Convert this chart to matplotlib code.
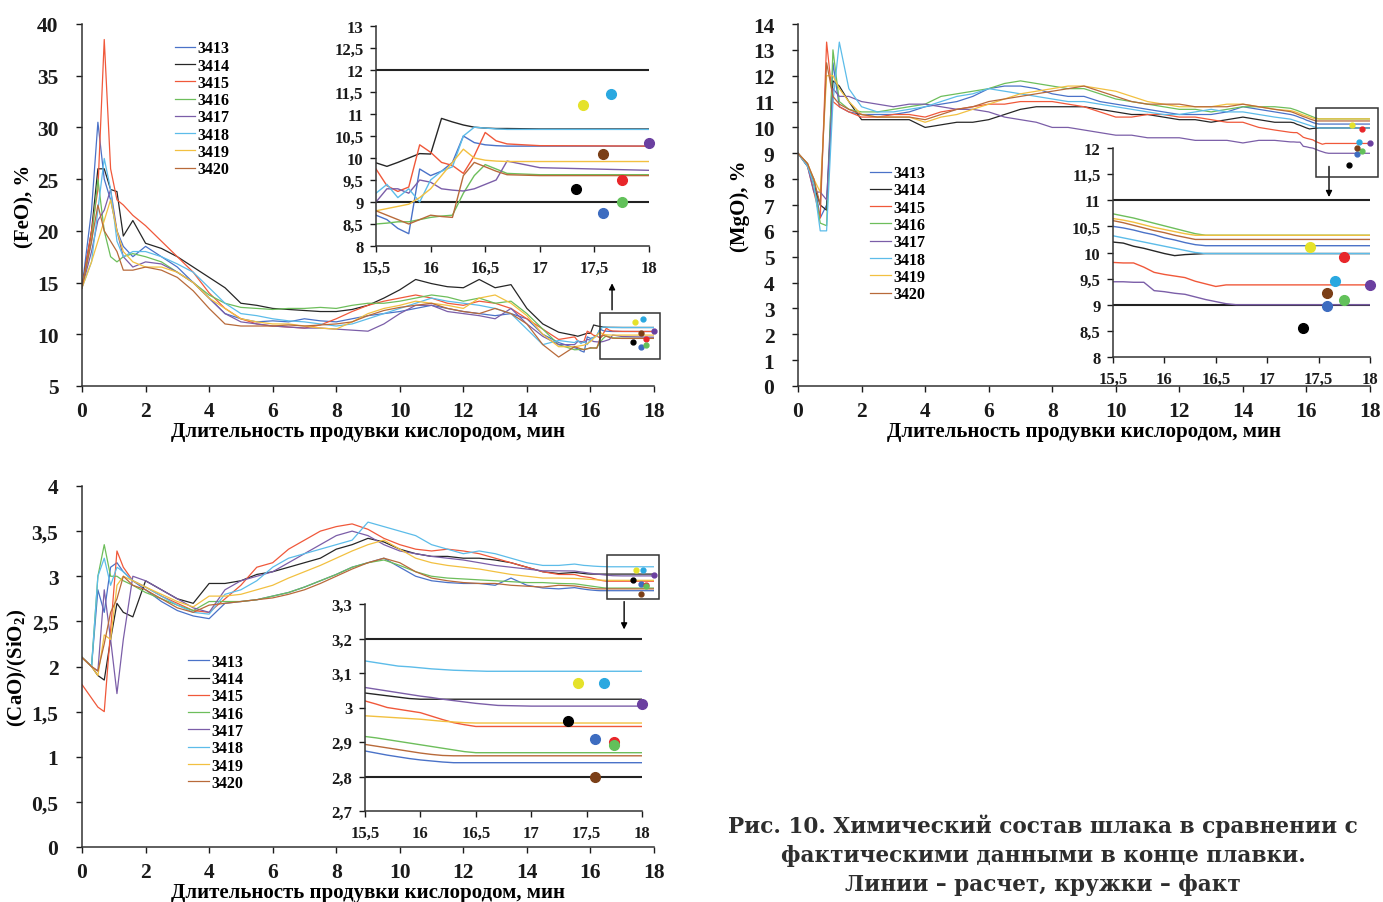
import matplotlib
matplotlib.use("Agg")
import matplotlib.pyplot as plt
from matplotlib.ticker import FuncFormatter, MultipleLocator
from matplotlib.patches import Rectangle

plt.rcParams["font.family"] = "Liberation Serif"
plt.rcParams["font.weight"] = "bold"
plt.rcParams["axes.labelweight"] = "bold"
plt.rcParams["mathtext.default"] = "regular"

# ---------------------------------------------------------------------------
# Data
# ---------------------------------------------------------------------------

HEATS = ["3413", "3414", "3415", "3416", "3417", "3418", "3419", "3420"]

T = [0, 0.3, 0.5, 0.7, 0.9, 1.1, 1.3, 1.6, 2, 2.5, 3, 3.5, 4, 4.5, 5, 5.5, 6,
     6.5, 7, 7.5, 8, 8.5, 9, 9.5, 10, 10.5, 11, 11.5, 12, 12.5, 13, 13.5, 14,
     14.5, 15,
     15.5, 15.6, 15.7, 15.8, 15.9, 16.0, 16.1, 16.2, 16.3, 16.4, 16.5, 16.6,
     16.7, 17.0, 18.0]

# (FeO), %
FEO_3413 = [14.5, 22, 30.5, 25, 23, 20, 18.5, 17.5, 18.5, 17.5, 16.5, 15, 13.5, 12, 11.5, 11.2, 11.3,
            11.2, 11.5, 11.3, 11.2, 11.5, 11.8, 12, 12.2, 12.5, 12.8, 12.5, 12.2, 12, 11.8, 12, 11.5, 10, 9.2,
            8.7, 8.6, 8.4, 8.28, 9.75, 9.6, 9.7, 9.9, 10.5, 10.35, 10.3, 10.28, 10.27, 10.27, 10.27]
FEO_3414 = [14.5, 20, 26, 26, 24, 23.8, 19.5, 21, 18.8, 18.3, 17.5, 16.5, 15.5, 14.5, 13, 12.8, 12.5,
            12.4, 12.3, 12.2, 12.2, 12.4, 12.8, 13.5, 14.3, 15.3, 14.9, 14.6, 14.5, 15.3, 14.5, 14.8, 12.5, 11.0, 10.2,
            9.89, 9.81, 9.9, 10.0, 10.1, 10.09, 10.9, 10.82, 10.75, 10.7, 10.68, 10.67, 10.67, 10.66, 10.66]
FEO_3415 = [14.5, 20, 24, 38.5, 26, 23, 22.5, 21.5, 20.5, 19, 17.5, 16, 14, 12.5, 11.5, 11.0, 10.8,
            10.7, 10.6, 10.9, 11.5, 12.2, 12.8, 13.2, 13.5, 13.8, 13.5, 13.0, 12.8, 13.2, 13.0, 12.5, 11.5, 10.5, 9.5,
            9.75, 9.37, 9.24, 9.34, 10.3, 10.13, 9.9, 9.83, 9.65, 10.05, 10.58, 10.39, 10.32, 10.28, 10.27]
FEO_3416 = [14.5, 19, 25, 20, 17.5, 17.0, 17.5, 17.8, 17.5, 17.0, 16.0, 15.0, 13.8, 13.0, 12.6, 12.5, 12.4,
            12.5, 12.5, 12.6, 12.5, 12.8, 13.0, 13.0, 13.2, 13.5, 13.8, 13.6, 13.2, 13.5, 13.0, 13.2, 12.0, 10.5, 9.0,
            8.5, 8.52, 8.55, 8.55, 8.6, 8.65, 8.68, 8.7, 9.2, 9.6, 9.85, 9.75, 9.65, 9.62, 9.62]
FEO_3417 = [14.5, 18, 21, 22, 24, 20, 17.5, 16.5, 17.0, 16.8, 16.0, 15.0, 13.5, 12.0, 11.2, 11.0, 10.8,
            10.7, 10.6, 10.6, 10.5, 10.4, 10.3, 11.0, 12.0, 12.8, 12.8, 12.2, 12.0, 11.8, 11.5, 12.5, 11.0, 9.8, 9.0,
            9.0, 9.3, 9.3, 9.2, 9.5, 9.45, 9.3, 9.27, 9.25, 9.3, 9.4, 9.5, 9.93, 9.78, 9.72]
FEO_3418 = [14.5, 17, 22, 27, 24, 19, 17.5, 18.0, 18.0, 17.5, 16.8, 16.0, 14.5, 13.0, 12.0, 11.8, 11.5,
            11.3, 11.2, 11.0, 10.8, 11.0, 11.5, 12.0, 12.5, 13.0, 13.5, 13.2, 13.0, 12.8, 12.5, 12.0, 10.5, 9.0, 9.4,
            9.2, 9.4, 9.1, 9.3, 9.0, 9.5, 9.7, 9.8, 10.5, 10.7, 10.68, 10.66, 10.65, 10.65, 10.65]
FEO_3419 = [14.5, 17, 19, 21, 23, 20, 18, 17.0, 16.5, 16.5, 16.0, 15.0, 13.5, 12.5, 11.5, 11.2, 11.0,
            11.0, 10.8, 10.6, 10.5, 11.2, 12.0, 12.5, 12.8, 13.2, 13.0, 12.8, 12.5, 13.5, 13.8, 13.0, 11.8, 10.0, 8.8,
            8.8, 8.85, 8.9, 8.95, 9.1, 9.3, 9.6, 9.9, 10.2, 10.0, 9.95, 9.93, 9.92, 9.92, 9.92]
FEO_3420 = [14.5, 19, 22.5, 20, 19, 18, 16.2, 16.2, 16.5, 16.2, 15.5, 14.2, 12.5, 11.0, 10.8, 10.8, 10.8,
            10.9, 10.8, 10.9, 11.0, 11.2, 11.8, 12.3, 12.6, 12.8, 13.0, 12.5, 12.2, 12.0, 12.5, 12.0, 11.0, 9.0, 7.8,
            8.8, 8.7, 8.6, 8.5, 8.6, 8.7, 8.67, 8.65, 9.6, 9.9, 9.8, 9.7, 9.62, 9.6, 9.6]
FEO_FACT_T = [17.58, 17.33, 17.75, 17.75, 18.0, 17.65, 17.4, 17.58]
FEO_FACT = [8.75, 9.3, 9.5, 9.0, 10.35, 11.45, 11.2, 10.1]
FEO_LIMITS = [9, 12]

# (MgO), %
MGO_3413 = [9, 8.5, 8.0, 6.5, 7.0, 12.5, 10.8, 10.6, 10.5, 10.5, 10.5, 10.6, 10.8, 10.9, 11.0, 11.2, 11.5,
            11.6, 11.6, 11.5, 11.3, 11.2, 11.2, 11.0, 10.9, 10.8, 10.7, 10.6, 10.5, 10.5, 10.5, 10.6, 10.8, 10.7, 10.6,
            10.5, 10.47, 10.43, 10.38, 10.34, 10.28, 10.24, 10.19, 10.15, 10.13, 10.13, 10.13, 10.13, 10.13, 10.13]
MGO_3414 = [9, 8.6, 7.8, 7.0, 6.8, 11.8, 11.6, 11.0, 10.3, 10.3, 10.3, 10.3, 10.0, 10.1, 10.2, 10.2, 10.3,
            10.5, 10.7, 10.8, 10.8, 10.8, 10.8, 10.7, 10.6, 10.5, 10.5, 10.4, 10.3, 10.3, 10.2, 10.3, 10.4, 10.3, 10.2,
            10.2, 10.18, 10.12, 10.08, 10.03, 9.98, 9.94, 9.96, 9.97, 9.98, 9.98, 9.98, 9.98, 9.98, 9.98]
MGO_3415 = [9, 8.5, 7.5, 6.5, 13.3, 11.0, 10.8, 10.6, 10.4, 10.4, 10.5, 10.5, 10.4, 10.6, 10.7, 10.8, 10.9,
            10.9, 11.0, 11.0, 11.0, 10.9, 10.8, 10.6, 10.4, 10.4, 10.5, 10.5, 10.4, 10.4, 10.3, 10.2, 10.2, 10.0, 9.9,
            9.81, 9.8, 9.8, 9.72, 9.62, 9.58, 9.55, 9.52, 9.45, 9.4, 9.35, 9.38, 9.38, 9.38, 9.38]
MGO_3416 = [9, 8.5, 7.8, 6.3, 6.2, 13.0, 11.0, 10.7, 10.6, 10.6, 10.7, 10.8, 10.9, 11.2, 11.3, 11.4, 11.5,
            11.7, 11.8, 11.7, 11.6, 11.5, 11.5, 11.3, 11.1, 11.0, 10.9, 10.8, 10.7, 10.7, 10.6, 10.7, 10.8, 10.8, 10.8,
            10.74, 10.7, 10.66, 10.61, 10.56, 10.51, 10.46, 10.41, 10.36, 10.33, 10.33, 10.33, 10.33, 10.33, 10.33]
MGO_3417 = [9, 8.5, 7.5, 7.5, 7.2, 11.5, 11.2, 11.2, 11.0, 10.9, 10.8, 10.9, 10.9, 10.8, 10.7, 10.7, 10.6,
            10.4, 10.3, 10.2, 10.0, 10.0, 9.9, 9.8, 9.7, 9.7, 9.6, 9.6, 9.6, 9.5, 9.5, 9.5, 9.4, 9.5, 9.5,
            9.44, 9.44, 9.43, 9.43, 9.27, 9.25, 9.22, 9.2, 9.15, 9.1, 9.06, 9.02, 9.0, 9.0, 9.0]
MGO_3418 = [9, 8.5, 7.8, 6.0, 6.0, 11.0, 13.3, 11.5, 10.8, 10.6, 10.6, 10.7, 10.8, 11.0, 11.2, 11.3, 11.5,
            11.4, 11.3, 11.2, 11.1, 11.0, 11.0, 10.9, 10.8, 10.7, 10.6, 10.5, 10.5, 10.6, 10.7, 10.6, 10.6, 10.5, 10.4,
            10.32, 10.28, 10.24, 10.2, 10.16, 10.12, 10.08, 10.04, 10.0, 9.98, 9.98, 9.98, 9.98, 9.98, 9.98]
MGO_3419 = [9, 8.6, 8.0, 7.5, 12.0, 12.0, 11.5, 11.0, 10.5, 10.4, 10.4, 10.4, 10.2, 10.4, 10.5, 10.7, 10.9,
            11.1, 11.3, 11.4, 11.5, 11.6, 11.6, 11.5, 11.4, 11.2, 11.0, 10.9, 10.8, 10.8, 10.8, 10.9, 10.9, 10.8, 10.7,
            10.65, 10.62, 10.58, 10.53, 10.48, 10.44, 10.4, 10.36, 10.33, 10.33, 10.33, 10.33, 10.33, 10.33, 10.33]
MGO_3420 = [9, 8.6, 8.0, 7.0, 12.5, 11.2, 10.9, 10.7, 10.5, 10.4, 10.4, 10.4, 10.3, 10.5, 10.7, 10.8, 11.0,
            11.1, 11.2, 11.3, 11.4, 11.5, 11.6, 11.4, 11.2, 11.0, 10.9, 10.9, 10.9, 10.8, 10.8, 10.8, 10.9, 10.8, 10.7,
            10.61, 10.57, 10.52, 10.47, 10.42, 10.38, 10.33, 10.29, 10.25, 10.25, 10.25, 10.25, 10.25, 10.25, 10.25]
MGO_FACT_T = [17.58, 17.35, 17.75, 17.75, 18.0, 17.66, 17.42, 17.58]
MGO_FACT = [8.98, 8.55, 9.92, 9.1, 9.38, 9.45, 10.1, 9.22]
MGO_LIMITS = [9, 11]

# (CaO)/(SiO2)
CAO_3413 = [2.1, 2.0, 2.85, 2.6, 3.1, 3.15, 3.05, 2.95, 2.85, 2.72, 2.62, 2.56, 2.53, 2.7, 2.72, 2.74, 2.78,
            2.82, 2.88, 2.95, 3.02, 3.1, 3.15, 3.2, 3.1, 3.0, 2.95, 2.93, 2.92, 2.92, 2.9, 2.98, 2.9, 2.87, 2.86,
            2.874, 2.868, 2.862, 2.857, 2.852, 2.848, 2.845, 2.842, 2.84, 2.84, 2.84, 2.84, 2.84, 2.84, 2.84]
CAO_3414 = [2.1, 2.0, 1.9, 1.85, 2.3, 2.7, 2.6, 2.55, 2.95, 2.85, 2.75, 2.7, 2.92, 2.92, 2.95, 3.02, 3.05,
            3.1, 3.15, 3.2, 3.3, 3.35, 3.42, 3.38, 3.3, 3.25, 3.22, 3.22, 3.2, 3.2, 3.18, 3.15, 3.1, 3.05, 3.03,
            3.042, 3.038, 3.034, 3.03, 3.026, 3.024, 3.024, 3.024, 3.024, 3.024, 3.024, 3.024, 3.024, 3.024, 3.024]
CAO_3415 = [1.8, 1.65, 1.55, 1.5, 2.4, 3.28, 3.1, 2.95, 2.88, 2.78, 2.7, 2.62, 2.6, 2.75, 2.9, 3.1, 3.15,
            3.3, 3.4, 3.5, 3.55, 3.58, 3.52, 3.42, 3.35, 3.3, 3.28, 3.3, 3.28, 3.25, 3.2, 3.15, 3.1, 3.05, 3.02,
            3.019, 3.01, 3.0, 2.995, 2.99, 2.985, 2.975, 2.965, 2.956, 2.95, 2.945, 2.945, 2.945, 2.945, 2.945]
CAO_3416 = [2.1, 2.0, 3.0, 3.35, 3.0, 3.0, 2.95, 2.9, 2.82, 2.75, 2.68, 2.62, 2.72, 2.72, 2.72, 2.74, 2.78,
            2.82, 2.88, 2.95, 3.02, 3.1, 3.15, 3.18, 3.12, 3.05, 3.0, 2.98, 2.97, 2.96, 2.95, 2.94, 2.93, 2.93, 2.92,
            2.916, 2.912, 2.907, 2.902, 2.897, 2.892, 2.887, 2.882, 2.877, 2.872, 2.869, 2.869, 2.869, 2.869, 2.869]
CAO_3417 = [2.1, 2.0, 1.95, 2.85, 2.3, 1.7, 2.3, 3.0, 2.95, 2.85, 2.75, 2.65, 2.6, 2.85, 2.95, 3.0, 3.05,
            3.15, 3.25, 3.35, 3.45, 3.5, 3.45, 3.35, 3.28, 3.25, 3.22, 3.2, 3.18, 3.15, 3.12, 3.1, 3.08, 3.06, 3.06,
            3.058, 3.053, 3.048, 3.043, 3.038, 3.033, 3.029, 3.024, 3.02, 3.016, 3.012, 3.009, 3.006, 3.004, 3.004]
CAO_3418 = [2.1, 2.0, 3.0, 3.2, 2.9, 3.1, 3.05, 2.95, 2.88, 2.78, 2.68, 2.6, 2.58, 2.8, 2.85, 2.95, 3.1,
            3.2, 3.25, 3.3, 3.35, 3.4, 3.6, 3.55, 3.5, 3.45, 3.35, 3.3, 3.25, 3.28, 3.25, 3.2, 3.15, 3.12, 3.12,
            3.135, 3.13, 3.125, 3.12, 3.118, 3.115, 3.112, 3.11, 3.108, 3.107, 3.106, 3.105, 3.105, 3.105, 3.105]
CAO_3419 = [2.1, 2.0, 1.9, 2.35, 2.3, 2.9, 3.0, 2.95, 2.88, 2.8, 2.72, 2.66, 2.78, 2.78, 2.8, 2.85, 2.9,
            2.98, 3.05, 3.12, 3.2, 3.28, 3.35, 3.4, 3.3, 3.2, 3.15, 3.12, 3.1, 3.08, 3.05, 3.02, 3.0, 2.98, 2.98,
            2.976, 2.974, 2.972, 2.97, 2.968, 2.966, 2.963, 2.96, 2.958, 2.956, 2.955, 2.955, 2.955, 2.955, 2.955]
CAO_3420 = [2.1, 2.0, 1.95, 2.25, 2.6, 2.75, 3.0, 2.9, 2.85, 2.75, 2.65, 2.6, 2.68, 2.7, 2.72, 2.74, 2.76,
            2.8, 2.85, 2.92, 3.0, 3.08, 3.15, 3.2, 3.15, 3.05, 2.98, 2.95, 2.93, 2.92, 2.92, 2.9, 2.89, 2.88, 2.9,
            2.893, 2.888, 2.883, 2.878, 2.873, 2.868, 2.864, 2.861, 2.86, 2.86, 2.86, 2.86, 2.86, 2.86, 2.86]
CAO_FACT_T = [17.58, 17.33, 17.75, 17.75, 18.0, 17.66, 17.42, 17.58]
CAO_FACT = [2.91, 2.962, 2.9, 2.89, 3.01, 3.072, 3.072, 2.80]
CAO_LIMITS = [2.8, 3.2]

# ---------------------------------------------------------------------------
# Style
# ---------------------------------------------------------------------------

LINE_COLORS = ["#4a72c8", "#262626", "#f0583a", "#6dbe5b",
               "#7b5ea8", "#5cbce9", "#f2c040", "#b86a3a"]
DOT_COLORS = ["#3d6cc0", "#000000", "#e8262a", "#62c15a",
              "#6b3fa0", "#2aa8e0", "#e5e22a", "#7b3f17"]
XLABEL = "Длительность продувки кислородом, мин"
W, H = 1383, 903


def px_axes(fig, x0, x1, ytop, ybot):
    """Axes placed by pixel corners of the plotting area."""
    return fig.add_axes([x0 / W, 1 - ybot / H, (x1 - x0) / W, (ybot - ytop) / H])


def comma(v, pos):
    return f"{v:g}".replace(".", ",")


def _style_ax(ax, size, xpad, ypad):
    for s in ("top", "right"):
        ax.spines[s].set_visible(False)
    for s in ("left", "bottom"):
        ax.spines[s].set_color("#333333")
        ax.spines[s].set_linewidth(1.1)
    ax.tick_params(labelsize=size, direction="out", length=4, width=1,
                   colors="#1a1a1a")
    ax.tick_params(axis="x", pad=xpad)
    ax.tick_params(axis="y", pad=ypad)
    ax.xaxis.set_major_formatter(FuncFormatter(comma))
    ax.yaxis.set_major_formatter(FuncFormatter(comma))


def draw_panel(fig, main_px, inset_px, series, fact_t, fact, limits,
               ylim, ystep, iylim, iystep, ylabel, leg_anchor, box, arrow):
    ax = px_axes(fig, *main_px)
    lines = []
    for name, y, c in zip(HEATS, series, LINE_COLORS):
        ln, = ax.plot(T, y, color=c, lw=0.9, label=name)
        lines.append(ln)
    for t, v, c in zip(fact_t, fact, DOT_COLORS):
        ax.plot(t, v, "o", color=c, ms=3.5, zorder=5, clip_on=False)
    ax.set_xlim(0, 18)
    ax.set_ylim(*ylim)
    ax.xaxis.set_major_locator(MultipleLocator(2))
    ax.yaxis.set_major_locator(MultipleLocator(ystep))
    _style_ax(ax, 15.5, 7, 13)
    ax.set_xlabel(XLABEL, fontsize=15, labelpad=0)
    ax.set_ylabel(ylabel, fontsize=15, labelpad=2)
    ax.legend(handles=lines, loc="upper left", bbox_to_anchor=leg_anchor,
              frameon=False, fontsize=11.5, handlelength=1.3, handletextpad=0.15,
              labelspacing=0.08, borderpad=0, borderaxespad=0)

    # zoom box + arrow towards the inset
    (bx0, bx1, by0, by1) = box
    ax.add_patch(Rectangle((bx0, by0), bx1 - bx0, by1 - by0, fill=False,
                           ec="#333333", lw=1.1, clip_on=False, zorder=6))
    ax.annotate("", xy=arrow[1], xytext=arrow[0], annotation_clip=False,
                arrowprops=dict(arrowstyle="-|>", color="black", lw=1,
                                mutation_scale=9))

    ins = px_axes(fig, *inset_px)
    ins.set_facecolor("none")
    for lv in limits:
        ins.axhline(lv, color="#222222", lw=1.5, zorder=1)
    tail = [i for i, t in enumerate(T) if t >= 15.5]
    for y, c in zip(series, LINE_COLORS):
        ins.plot([T[i] for i in tail], [y[i] for i in tail], color=c, lw=1.0)
    for t, v, c in zip(fact_t, fact, DOT_COLORS):
        ins.plot(t, v, "o", color=c, ms=7, zorder=5, clip_on=False)
    ins.set_xlim(15.5, 18)
    ins.set_ylim(*iylim)
    ins.xaxis.set_major_locator(MultipleLocator(0.5))
    ins.yaxis.set_major_locator(MultipleLocator(iystep))
    _style_ax(ins, 12, 6, 5)
    return ax, ins


fig = plt.figure(figsize=(W / 100, H / 100), dpi=100)

draw_panel(fig, (82, 654, 25, 387), (376, 649, 27, 247),
           [FEO_3413, FEO_3414, FEO_3415, FEO_3416, FEO_3417, FEO_3418, FEO_3419, FEO_3420],
           FEO_FACT_T, FEO_FACT, FEO_LIMITS,
           (5, 40), 5, (8, 13), 0.5, "(FeO), %", (0.162, 0.955),
           (16.3, 18.2, 7.6, 12.1), ((16.68, 12.1), (16.68, 15.2)))

draw_panel(fig, (798, 1370, 25, 387), (1113, 1370, 149, 358),
           [MGO_3413, MGO_3414, MGO_3415, MGO_3416, MGO_3417, MGO_3418, MGO_3419, MGO_3420],
           MGO_FACT_T, MGO_FACT, MGO_LIMITS,
           (0, 14), 1, (8, 12), 0.5, "(MgO), %", (0.126, 0.61),
           (16.3, 18.25, 8.08, 10.75), ((16.71, 8.6), (16.71, 7.2)))

draw_panel(fig, (82, 654, 487, 848), (365, 642, 605, 812),
           [CAO_3413, CAO_3414, CAO_3415, CAO_3416, CAO_3417, CAO_3418, CAO_3419, CAO_3420],
           CAO_FACT_T, CAO_FACT, CAO_LIMITS,
           (0, 4), 0.5, (2.7, 3.3), 0.1, "(CaO)/(SiO$_2$)", (0.185, 0.535),
           (16.52, 18.16, 2.75, 3.235), ((17.06, 2.75), (17.06, 2.38)))

fig.text(1043 / W, 1 - 855 / H,
         "Рис. 10. Химический состав шлака в сравнении с\n"
         "фактическими данными в конце плавки.\n"
         "Линии – расчет, кружки – факт",
         ha="center", va="center", fontsize=15.6, family="DejaVu Serif",
         color="#2e2e2e", linespacing=1.4)

fig.savefig("out.png", dpi=100)
